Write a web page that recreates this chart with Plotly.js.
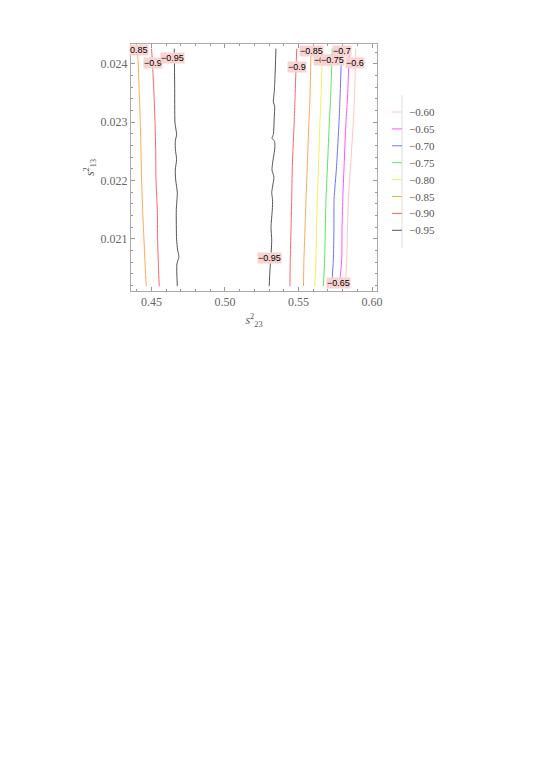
<!DOCTYPE html>
<html>
<head>
<meta charset="utf-8">
<script src="https://cdn.plot.ly/plotly-3.0.1.min.js"></script>
<style>
  html,body{margin:0;padding:0;background:#fff;}
  #chart{width:540px;height:764px;}
</style>
</head>
<body>
<div id="chart"></div>
<script>
// contour levels and their colours (legend order: top -> bottom)
const levels      = [-0.60, -0.65, -0.70, -0.75, -0.80, -0.85, -0.90, -0.95];
const levelColors = ["#ffc4c4", "#ff55ff", "#7070ff", "#5ee65e", "#f2f25a", "#ffaa55", "#ff6464", "#555555"];

// left group of contours
const yRowsLeft = [0.02426, 0.02400, 0.02351, 0.02301, 0.02250, 0.02200, 0.02150, 0.02100, 0.02050, 0.02019];
const x085Left  = [0.4403, 0.4410, 0.4417, 0.4424, 0.4429, 0.4433, 0.4440, 0.4449, 0.4458, 0.4465];
const x090Left  = [0.4501, 0.4507, 0.4517, 0.4524, 0.4529, 0.4531, 0.4540, 0.4542, 0.4548, 0.4553];
const y095Left  = [0.02426, 0.02364, 0.02299, 0.02279, 0.02267, 0.02253, 0.02236, 0.02218, 0.02201, 0.02179, 0.02150, 0.02100, 0.02081, 0.02069, 0.02057, 0.02019];
const x095Left  = [0.4655, 0.4658, 0.4660, 0.4671, 0.4662, 0.4663, 0.4671, 0.4662, 0.4665, 0.4676, 0.4669, 0.4671, 0.4678, 0.4687, 0.4673, 0.4676];

// right group of contours
const y095Right = [0.02426, 0.02376, 0.02351, 0.02335, 0.02327, 0.02308, 0.02279, 0.02273, 0.02267, 0.02258, 0.02230, 0.02218, 0.02206, 0.02179, 0.02167, 0.02150, 0.02120, 0.02098, 0.02064, 0.02047, 0.02019];
const x095Right = [0.5347, 0.5340, 0.5335, 0.5329, 0.5338, 0.5335, 0.5329, 0.5320, 0.5337, 0.5340, 0.5324, 0.5320, 0.5333, 0.5318, 0.5324, 0.5322, 0.5313, 0.5318, 0.5311, 0.5306, 0.5301];
const yRowsRight = [0.02426, 0.02339, 0.02301, 0.02224, 0.02167, 0.02115, 0.02064, 0.02019];
const x090Right = [0.5488, 0.5476, 0.5471, 0.5458, 0.5454, 0.5449, 0.5444, 0.5442];
const x085Right = [0.5585, 0.5578, 0.5571, 0.5560, 0.5551, 0.5544, 0.5537, 0.5534];
const x080      = [0.5662, 0.5653, 0.5646, 0.5636, 0.5628, 0.5622, 0.5619, 0.5610];
const x075      = [0.5730, 0.5718, 0.5710, 0.5697, 0.5687, 0.5682, 0.5678, 0.5669];
const x070      = [0.5794, 0.5782, 0.5776, 0.5759, 0.5742, 0.5741, 0.5737, 0.5726];
const x065      = [0.5846, 0.5833, 0.5823, 0.5810, 0.5801, 0.5796, 0.5794, 0.5778];
const x060      = [0.5889, 0.5881, 0.5873, 0.5854, 0.5839, 0.5833, 0.5828, 0.5818];

// inline contour labels (the -0.8 one sits under the -0.75 one, as in the source)
const labelText = ["0.85", "\u22120.9", "\u22120.95", "\u22120.9", "\u22120.85", "\u22120.8", "\u22120.75", "\u22120.7", "\u22120.6", "\u22120.95", "\u22120.65"];
const labelX    = [0.44184, 0.45088, 0.46463, 0.54878, 0.55918, 0.56667, 0.57313, 0.57959, 0.58844, 0.53027, 0.57735];
const labelY    = [0.024229, 0.024017, 0.024096, 0.023945, 0.02422, 0.024074, 0.024074, 0.024225, 0.024017, 0.020680, 0.020251];

const colorOf = lv => levelColors[levels.indexOf(lv)];

const lines = [
  {lv:-0.85, x:x085Left,  y:yRowsLeft},
  {lv:-0.90, x:x090Left,  y:yRowsLeft},
  {lv:-0.95, x:x095Left,  y:y095Left},
  {lv:-0.95, x:x095Right, y:y095Right},
  {lv:-0.90, x:x090Right, y:yRowsRight},
  {lv:-0.85, x:x085Right, y:yRowsRight},
  {lv:-0.80, x:x080,      y:yRowsRight},
  {lv:-0.75, x:x075,      y:yRowsRight},
  {lv:-0.70, x:x070,      y:yRowsRight},
  {lv:-0.65, x:x065,      y:yRowsRight},
  {lv:-0.60, x:x060,      y:yRowsRight}
];

const traces = lines.map(l => ({
  type:"scatter", mode:"lines", x:l.x, y:l.y,
  line:{color:colorOf(l.lv), width:1, shape:"spline", smoothing:0.6},
  showlegend:false, hoverinfo:"skip"
}));

const annotations = labelText.map((t,i) => ({
  x:labelX[i], y:labelY[i], xref:"x", yref:"y", text:t, showarrow:false,
  font:{family:"Liberation Sans, Arial", size:9, color:"#000"},
  bgcolor:"#f9d2d2", borderpad:0
}));

// hand-made legend to the right of the frame
const M = {l:131, r:163, t:44, b:473};
const PW = 540 - M.l - M.r, PH = 764 - M.t - M.b;
const px2paperX = px => (px - M.l) / PW;
const px2paperY = py => 1 - (py - M.t) / PH;
const shapes = [{
  type:"line", xref:"paper", yref:"paper",
  x0:px2paperX(402), x1:px2paperX(402), y0:px2paperY(95), y1:px2paperY(248),
  line:{color:"#dddddd", width:1}
}];
levels.forEach((lv,i) => {
  const py = 112 + i*16.9;
  shapes.push({type:"line", xref:"paper", yref:"paper",
    x0:px2paperX(392), x1:px2paperX(402), y0:px2paperY(py), y1:px2paperY(py),
    line:{color:levelColors[i], width:1}});
  annotations.push({xref:"paper", yref:"paper", x:px2paperX(407), y:px2paperY(py),
    xanchor:"left", yanchor:"middle", showarrow:false,
    text:"\u2212" + Math.abs(lv).toFixed(2),
    font:{family:"Liberation Serif, Times New Roman, serif", size:11, color:"#555"}});
});

const tickFont = {family:"Liberation Serif, Times New Roman, serif", size:12, color:"#666"};
const axisBase = {
  ticks:"inside", ticklen:4, tickcolor:"#999", tickwidth:1,
  showline:true, linecolor:"#aaa", linewidth:1, mirror:"ticks",
  showgrid:false, zeroline:false, tickfont:tickFont
};

const layout = {
  width:540, height:764, margin:M,
  paper_bgcolor:"#fff", plot_bgcolor:"#fff",
  showlegend:false,
  xaxis:{...axisBase, range:[0.4361, 0.6034], tick0:0.45, dtick:0.05, tickformat:".2f",
    minor:{dtick:0.01, ticks:"inside", ticklen:2, tickcolor:"#999"},
    title:{text:"<i>s</i><sup>2</sup><sub>23</sub>", font:{family:"Liberation Serif, serif", size:12, color:"#555"}, standoff:7}},
  yaxis:{...axisBase, range:[0.020107, 0.02434], tick0:0.021, dtick:0.001, tickformat:".3f",
    minor:{dtick:0.0002, ticks:"inside", ticklen:2, tickcolor:"#999"},
    title:{text:"<i>s</i><sup>2</sup><sub>13</sub>", font:{family:"Liberation Serif, serif", size:12, color:"#555"}, standoff:3}},
  annotations, shapes
};

Plotly.newPlot("chart", traces, layout, {displayModeBar:false, staticPlot:true});
</script>
</body>
</html>
